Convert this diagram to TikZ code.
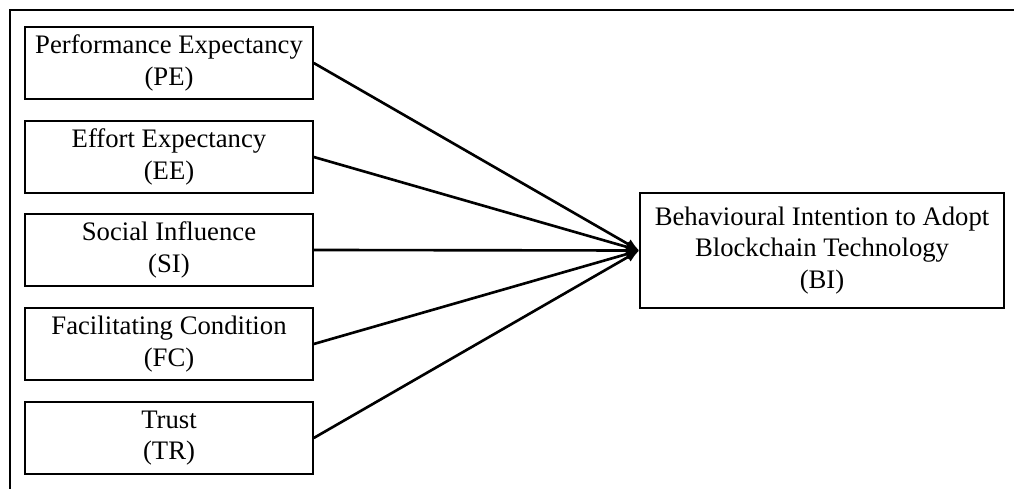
\documentclass[tikz,border=0pt]{standalone}
\usepackage{fontspec}
\setmainfont{Liberation Serif}
\usetikzlibrary{arrows.meta}

\begin{document}
\begin{tikzpicture}[x=0.02cm, y=-0.02cm, font=\fontsize{15.2}{18}\selectfont,
	factor/.style={draw, line width=0.9pt, align=center, inner sep=0pt, minimum width=5.76cm, minimum height=1.44cm},
	target/.style={draw, line width=0.9pt, align=center, inner sep=0pt, minimum width=7.28cm, minimum height=2.3cm},
	path/.style={line width=1.5pt, -{Latex[length=2.6mm, width=2.2mm]}}]
	\useasboundingbox (0,0) rectangle (1014,489);
	\draw[line width=1.4pt] (10,500) -- (10,10) -- (1030,10);
	\node[factor] (pe) at (169,63) {Performance Expectancy\\(PE)};
	\node[factor] (ee) at (169,157) {Effort Expectancy\\(EE)};
	\node[factor] (si) at (169,250) {Social Influence\\(SI)};
	\node[factor] (fc) at (169,344) {Facilitating Condition\\(FC)};
	\node[factor] (tr) at (169,438) {Trust\\(TR)};
	\node[target] (bi) at (822,250.5) {Behavioural Intention to Adopt\\Blockchain Technology\\(BI)};
	\foreach \f in {pe,ee,si,fc,tr}
		\draw[path] (\f.east) -- (bi.west);
\end{tikzpicture}
\end{document}
